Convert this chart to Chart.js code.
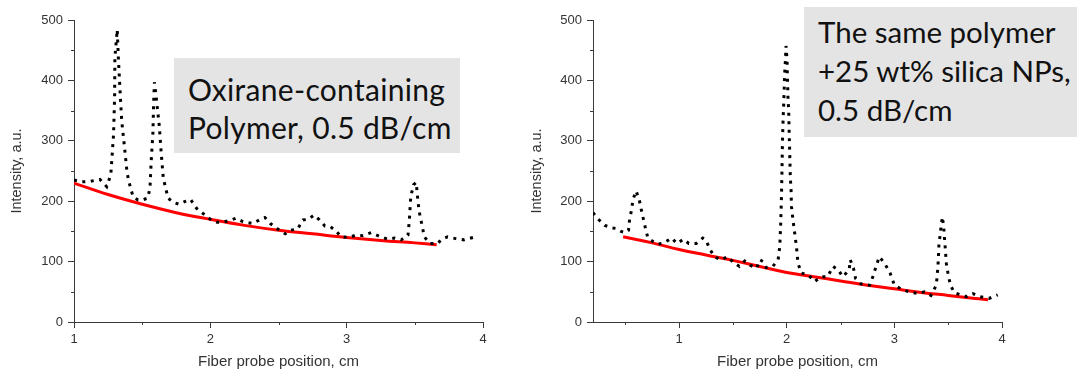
<!DOCTYPE html>
<html><head><meta charset="utf-8">
<script src="https://cdn.jsdelivr.net/npm/chart.js@4/dist/chart.umd.min.js"></script>
<style>
html,body{margin:0;padding:0;background:#fff;width:1077px;height:372px;overflow:hidden;}
#wrap{position:relative;width:1077px;height:372px;}
canvas{position:absolute;top:0;}
.box{position:absolute;background:#e4e4e4;font-family:Lato,'Open Sans',sans-serif;color:#111;white-space:nowrap;box-sizing:border-box;font-size:30px;letter-spacing:0.3px;}
#b1{left:174px;top:58px;width:286px;height:95px;padding:12px 0 0 14px;line-height:38px;}
#b2{left:804px;top:7px;width:273px;height:130px;padding:5px 0 0 14px;line-height:39px;font-size:29.5px;letter-spacing:0;}
</style></head><body>
<div id="wrap">
<canvas id="c1" width="540" height="372" style="left:0;width:540px;height:372px"></canvas>
<canvas id="c2" width="549" height="372" style="left:528px;width:549px;height:372px"></canvas>
<div class="box" id="b1">Oxirane-containing<br>Polymer, 0.5 dB/cm</div>
<div class="box" id="b2">The same polymer<br>+25 wt% silica NPs,<br>0.5 dB/cm</div>
</div>
<script>
// ---------- data ----------
const leftX = [1.00,1.06,1.12,1.19,1.24,1.27,1.29,1.298,1.30,1.317,1.325,1.34,1.35,1.37,1.39,1.415,1.435,1.47,1.50,1.54,1.557,1.566,1.579,1.583,1.586,1.59,1.606,1.625,1.64,1.655,1.69,1.73,1.77,1.82,1.855,1.90,1.95,2.00,2.05,2.09,2.14,2.19,2.24,2.31,2.36,2.40,2.44,2.50,2.55,2.59,2.64,2.68,2.72,2.76,2.80,2.84,2.88,2.92,2.96,3.02,3.07,3.12,3.18,3.24,3.30,3.35,3.40,3.45,3.46,3.47,3.49,3.51,3.52,3.53,3.55,3.57,3.61,3.67,3.69,3.74,3.80,3.86,3.93,3.96];
const leftY = [235,232,233,236,224,244,310,373,438,484,439,373,333,290,246,221,207,202,202,205,221,265,314,353,375,397,366,326,279,238,205,198,195,200,203,188,179,170,165,165,168,172,166,163,169,173,163,153,146,152,154,169,170,177,169,159,158,151,141,140,144,143,148,142,137,139,136,144,169,207,227,231,207,185,163,141,130,130,136,141,138,136,140,143];
const leftFitX = [1.00,1.25,1.50,1.75,2.00,2.25,2.50,2.75,3.00,3.25,3.50,3.66];
const leftFitY = [230,211,195,181,170,160,152,146,140,135,131,128];

const rightX = [0.20,0.25,0.31,0.37,0.41,0.46,0.50,0.53,0.54,0.56,0.57,0.60,0.63,0.65,0.67,0.69,0.71,0.76,0.80,0.86,0.93,0.98,1.04,1.09,1.16,1.22,1.25,1.29,1.33,1.39,1.45,1.51,1.56,1.61,1.66,1.72,1.75,1.78,1.81,1.87,1.92,1.935,1.944,1.951,1.956,1.96,1.966,1.972,1.981,1.988,1.993,2.003,2.005,2.009,2.012,2.018,2.021,2.024,2.027,2.03,2.033,2.04,2.044,2.058,2.074,2.09,2.105,2.137,2.20,2.26,2.32,2.38,2.43,2.48,2.52,2.58,2.59,2.62,2.64,2.69,2.77,2.80,2.83,2.86,2.91,2.96,3.00,3.08,3.16,3.22,3.28,3.34,3.39,3.405,3.414,3.43,3.446,3.458,3.467,3.483,3.498,3.52,3.56,3.62,3.67,3.73,3.79,3.88,3.96];
const rightY = [181,170,160,156,155,150,148,152,170,187,202,217,202,185,169,153,139,133,129,131,139,130,137,130,130,139,135,119,108,103,108,98,92,101,94,89,103,100,90,92,103,125,163,207,252,296,334,362,412,434,457,434,413,390,368,351,326,304,285,263,241,219,191,169,147,125,97,81,78,67,75,75,92,86,75,86,103,89,72,63,61,75,92,108,97,81,61,53,49,47,50,44,61,92,127,152,174,158,136,97,81,61,48,45,42,47,42,39,45];
const rightFitX = [0.48,0.75,1.00,1.25,1.50,1.75,2.00,2.25,2.50,2.75,3.00,3.25,3.50,3.75,3.87];
const rightFitY = [141,131,120,111,102,92,82,75,68,61,55,49,44,39,37];

const yTicks = [0,50,100,150,200,250,300,350,400,450,500];
const leftXTicks = [1,1.5,2,2.5,3,3.5,4];
const rightXTicks = [0.5,1,1.5,2,2.5,3,3.5,4];

const yTitle = 'Intensity, a.u.';
const xTitle = 'Fiber probe position, cm';

// ---------- styles ----------
const AXIS = '#3a3a3a';
const TXT = '#333';
const FONT = 'Liberation Sans, Arial, sans-serif';
const isMajorX = v => Math.abs(v - Math.round(v)) < 1e-6;
const isMajorY = v => v % 100 === 0;

const minorTicks = {
  id: 'minorTicks',
  afterDraw(chart) {
    const ctx = chart.ctx, xs = chart.scales.x, ys = chart.scales.y;
    ctx.save();
    ctx.strokeStyle = AXIS; ctx.lineWidth = 1;
    xs.ticks.forEach(t => {
      if (!isMajorX(t.value)) {
        const px = Math.round(xs.getPixelForValue(t.value)) + 0.5;
        ctx.beginPath(); ctx.moveTo(px, ys.bottom); ctx.lineTo(px, ys.bottom + 3); ctx.stroke();
      }
    });
    ys.ticks.forEach(t => {
      if (!isMajorY(t.value)) {
        const py = Math.round(ys.getPixelForValue(t.value)) + 0.5;
        ctx.beginPath(); ctx.moveTo(xs.left, py); ctx.lineTo(xs.left - 3, py); ctx.stroke();
      }
    });
    ctx.restore();
  }
};

function pts(xs, ys) { return xs.map((x, i) => ({x: x, y: ys[i]})); }

function make(id, o) {
  return new Chart(document.getElementById(id), {
    type: 'line',
    data: {
      datasets: [
        {data: pts(o.fx, o.fy), borderColor: '#ff0000', borderWidth: 3, pointRadius: 0, tension: 0.4, fill: false, order: 2},
        {data: pts(o.dx, o.dy), borderColor: '#000', borderWidth: 3, borderDash: [3, 5.5], borderCapStyle: 'butt', pointRadius: 0, tension: 0, fill: false, order: 1}
      ]
    },
    options: {
      responsive: false, animation: false,
      layout: {padding: {left: 0, right: o.padR, top: 20, bottom: 0}},
      plugins: {legend: {display: false}, tooltip: {enabled: false}},
      scales: {
        x: {
          type: 'linear', min: o.xmin, max: 4,
          afterBuildTicks: s => { s.ticks = o.xticks.map(v => ({value: v})); },
          afterFit: s => { s.height = 50; },
          grid: {display: true, drawOnChartArea: false, drawTicks: true, tickLength: 6,
                 tickColor: c => (c.tick && isMajorX(c.tick.value)) ? AXIS : 'rgba(0,0,0,0)'},
          border: {display: true, color: AXIS, width: 1},
          ticks: {padding: 4, color: TXT, font: {family: FONT, size: 13}, maxRotation: 0, autoSkip: false,
                  callback: v => isMajorX(v) ? String(Math.round(v)) : ''},
          title: {display: true, text: xTitle, color: TXT, font: {family: FONT, size: 15}, padding: {top: 0, bottom: 1}}
        },
        y: {
          type: 'linear', min: 0, max: 500,
          afterBuildTicks: s => { s.ticks = yTicks.map(v => ({value: v})); },
          afterFit: s => { s.width = o.yw; },
          grid: {display: true, drawOnChartArea: false, drawTicks: true, tickLength: 6,
                 tickColor: c => (c.tick && isMajorY(c.tick.value)) ? AXIS : 'rgba(0,0,0,0)'},
          border: {display: true, color: AXIS, width: 1},
          ticks: {padding: 5, color: TXT, font: {family: FONT, size: 13}, autoSkip: false,
                  callback: v => isMajorY(v) ? String(v) : ''},
          title: {display: true, text: yTitle, color: TXT, font: {family: FONT, size: 14.5}, padding: {top: o.ytp, bottom: 0}}
        }
      }
    },
    plugins: [minorTicks]
  });
}

make('c1', {dx: leftX, dy: leftY, fx: leftFitX, fy: leftFitY, xmin: 1, xticks: leftXTicks, padR: 57, yw: 74, ytp: 8.5});
make('c2', {dx: rightX, dy: rightY, fx: rightFitX, fy: rightFitY, xmin: 0.2, xticks: rightXTicks, padR: 75, yw: 65, ytp: 0});
</script>
</body></html>
